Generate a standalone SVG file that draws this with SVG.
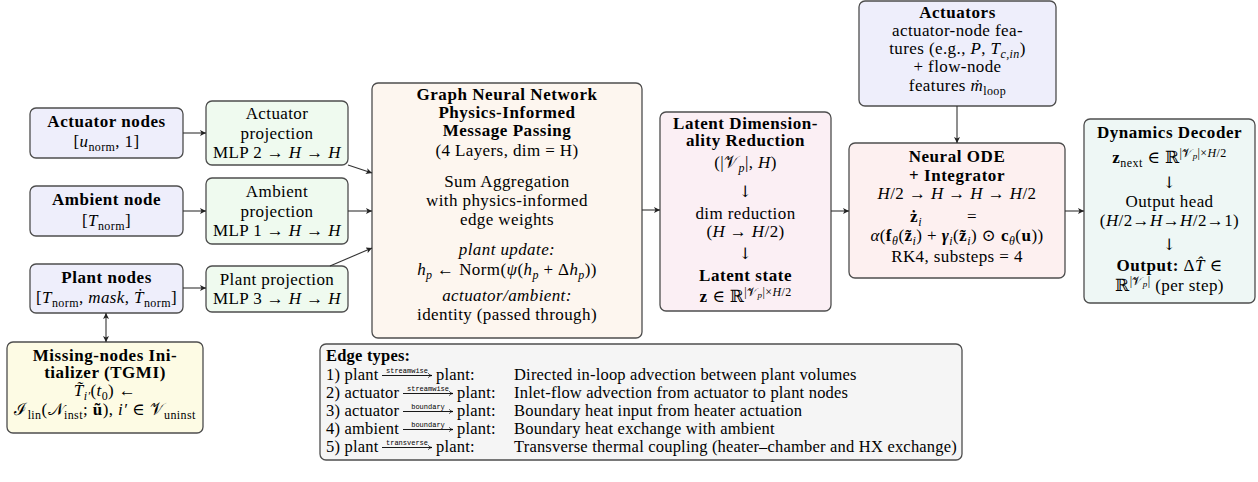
<svg xmlns="http://www.w3.org/2000/svg" width="1258" height="482" viewBox="0 0 1258 482">
<defs>
<marker id="ah" viewBox="0 0 10 10" refX="10" refY="5" markerWidth="7" markerHeight="6" markerUnits="userSpaceOnUse" orient="auto-start-reverse"><path d="M0,0 L10,5 L0,10 L2.5,5 z" fill="#222"/></marker>
<marker id="sh" viewBox="0 0 10 10" refX="9" refY="5" markerWidth="5.5" markerHeight="5.5" markerUnits="userSpaceOnUse" orient="auto"><path d="M2,1 Q5,5 9,5 Q5,5 2,9" fill="none" stroke="#000" stroke-width="1.3"/></marker>
<style>
.bx{stroke:#4d4d4d;stroke-width:1.3}
.blue{fill:#eeeefb}
.green{fill:#effaef}
.yel{fill:#fdfbe4}
.peach{fill:#fdf6ef}
.pink{fill:#fbeff4}
.red{fill:#fdf0f0}
.teal{fill:#eef7f5}
.gray{fill:#f5f5f5}
.t{font-family:"Liberation Serif","DejaVu Serif",serif;font-size:17px;letter-spacing:.4px;text-anchor:middle;fill:#000}
.b{font-weight:bold;letter-spacing:.55px}
.i{font-style:italic}
.s{font-size:12px}
.dn{font-family:"DejaVu Serif",serif;font-size:16px}
.e{font-size:16.5px;letter-spacing:.2px;text-anchor:start}
.m{font-family:"Liberation Mono","DejaVu Sans Mono",monospace;font-size:7px;letter-spacing:0;text-anchor:middle;fill:#000}
.c{stroke:#333;stroke-width:1.1;fill:none;marker-end:url(#ah)}
.la{stroke:#000;stroke-width:.9;fill:none;marker-end:url(#sh)}
</style>
</defs>

<g id="actuator-nodes">
<rect class="bx blue" x="30" y="108" width="153" height="50" rx="6"/>
<text class="t b" x="106.5" y="127">Actuator nodes</text>
<text class="t" x="106.5" y="147">[<tspan class="i">u</tspan><tspan class="s" dy="3.5">norm</tspan><tspan dy="-3.5">, 1]</tspan></text>
</g>

<g id="ambient-node">
<rect class="bx blue" x="30" y="186" width="153" height="50" rx="6"/>
<text class="t b" x="106.5" y="205">Ambient node</text>
<text class="t" x="106.5" y="226">[<tspan class="i">T</tspan><tspan class="s" dy="3.5">norm</tspan><tspan dy="-3.5">]</tspan></text>
</g>

<g id="plant-nodes">
<rect class="bx blue" x="30" y="264" width="153" height="49" rx="6"/>
<text class="t b" x="106.5" y="283">Plant nodes</text>
<text class="t" x="106.5" y="303">[<tspan class="i">T</tspan><tspan class="s" dy="3.5">norm</tspan><tspan dy="-3.5">, </tspan><tspan class="i">mask</tspan>, <tspan class="i">Ṫ</tspan><tspan class="s" dy="3.5">norm</tspan><tspan dy="-3.5">]</tspan></text>
</g>

<g id="missing-nodes-initializer">
<rect class="bx yel" x="7" y="342" width="196" height="91" rx="6"/>
<text class="t b" x="105" y="361">Missing-nodes Ini-</text>
<text class="t b" x="105" y="378">tializer (TGMI)</text>
<text class="t" x="105" y="396"><tspan class="i">T̃</tspan><tspan class="s i" dy="3.5">i′</tspan><tspan dy="-3.5">(</tspan><tspan class="i">t</tspan><tspan class="s" dy="3.5">0</tspan><tspan dy="-3.5">)  ←</tspan></text>
<text class="t" x="105" y="415">ℐ<tspan class="s" dy="3.5">lin</tspan><tspan dy="-3.5">(𝒩</tspan><tspan class="s" dy="3.5">inst</tspan><tspan dy="-3.5">; </tspan><tspan class="b">ũ</tspan>), <tspan class="i">i′</tspan> ∈ 𝒱<tspan class="s" dy="3.5">uninst</tspan></text>
</g>

<g id="actuator-projection">
<rect class="bx green" x="206" y="101" width="142" height="64" rx="6"/>
<text class="t" x="277" y="119">Actuator</text>
<text class="t" x="277" y="139">projection</text>
<text class="t" x="277" y="158">MLP 2 → <tspan class="i">H</tspan> → <tspan class="i">H</tspan></text>
</g>

<g id="ambient-projection">
<rect class="bx green" x="206" y="178" width="142" height="66" rx="6"/>
<text class="t" x="277" y="197">Ambient</text>
<text class="t" x="277" y="217">projection</text>
<text class="t" x="277" y="236">MLP 1 → <tspan class="i">H</tspan> → <tspan class="i">H</tspan></text>
</g>

<g id="plant-projection">
<rect class="bx green" x="206" y="266" width="142" height="46" rx="6"/>
<text class="t" x="277" y="285">Plant projection</text>
<text class="t" x="277" y="304">MLP 3 → <tspan class="i">H</tspan> → <tspan class="i">H</tspan></text>
</g>

<g id="gnn">
<rect class="bx peach" x="372" y="83" width="270" height="255" rx="6"/>
<text class="t b" x="507" y="100">Graph Neural Network</text>
<text class="t b" x="507" y="118">Physics-Informed</text>
<text class="t b" x="507" y="136">Message Passing</text>
<text class="t" x="507" y="156">(4 Layers, dim = H)</text>
<text class="t" x="507" y="187">Sum Aggregation</text>
<text class="t" x="507" y="206">with physics-informed</text>
<text class="t" x="507" y="225">edge weights</text>
<text class="t i" x="507" y="255">plant update:</text>
<text class="t" x="507" y="275"><tspan class="i">h</tspan><tspan class="s i" dy="3.5">p</tspan><tspan dy="-3.5"> ← Norm(</tspan><tspan class="i">ψ</tspan>(<tspan class="i">h</tspan><tspan class="s i" dy="3.5">p</tspan><tspan dy="-3.5"> + Δ</tspan><tspan class="i">h</tspan><tspan class="s i" dy="3.5">p</tspan><tspan dy="-3.5">))</tspan></text>
<text class="t i" x="507" y="301">actuator/ambient:</text>
<text class="t" x="507" y="320">identity (passed through)</text>
</g>

<g id="latent-reduction">
<rect class="bx pink" x="660" y="112" width="171" height="199" rx="6"/>
<text class="t b" x="745.5" y="129">Latent Dimension-</text>
<text class="t b" x="745.5" y="146">ality Reduction</text>
<text class="t" x="745.5" y="168">(|𝒱<tspan class="s i" dy="3.5">p</tspan><tspan dy="-3.5">|, </tspan><tspan class="i">H</tspan>)</text>
<text class="t dn" x="745.5" y="197">↓</text>
<text class="t" x="745.5" y="219">dim reduction</text>
<text class="t" x="745.5" y="237">(<tspan class="i">H</tspan> → <tspan class="i">H</tspan>/2)</text>
<text class="t dn" x="745.5" y="259">↓</text>
<text class="t b" x="745.5" y="281">Latent state</text>
<text class="t" x="745.5" y="302"><tspan class="b">z</tspan> ∈ ℝ<tspan class="s" dy="-6.5">|𝒱</tspan><tspan class="i" style="font-size:9px" dy="2">p</tspan><tspan class="s" dy="-2">|×</tspan><tspan class="s i">H</tspan><tspan class="s">/2</tspan></text>
</g>

<g id="actuators">
<rect class="bx blue" x="859" y="1" width="197" height="105" rx="6"/>
<text class="t b" x="957.5" y="18">Actuators</text>
<text class="t" x="957.5" y="36">actuator-node fea-</text>
<text class="t" x="957.5" y="54">tures (e.g., <tspan class="i">P</tspan>, <tspan class="i">T</tspan><tspan class="s i" dy="3.5">c,in</tspan><tspan dy="-3.5">)</tspan></text>
<text class="t" x="957.5" y="72">+ flow-node</text>
<text class="t" x="957.5" y="91">features <tspan class="i">ṁ</tspan><tspan class="s" dy="3.5">loop</tspan></text>
</g>

<g id="neural-ode">
<rect class="bx red" x="849" y="143" width="216" height="135" rx="6"/>
<text class="t b" x="957" y="162">Neural ODE</text>
<text class="t b" x="957" y="181">+ Integrator</text>
<text class="t" x="957" y="199"><tspan class="i">H</tspan>/2 → <tspan class="i">H</tspan> → <tspan class="i">H</tspan> → <tspan class="i">H</tspan>/2</text>
<text class="t" x="916" y="222"><tspan class="b">ż</tspan><tspan class="s i" dy="3.5">i</tspan></text>
<text class="t" x="972" y="222">=</text>
<text class="t" x="957" y="241"><tspan class="i">α</tspan>(<tspan class="b">f</tspan><tspan class="s i" dy="3.5">θ</tspan><tspan dy="-3.5">(</tspan><tspan class="b">z̃</tspan><tspan class="s i" dy="3.5">i</tspan><tspan dy="-3.5">) + </tspan><tspan class="b i">γ</tspan><tspan class="s i" dy="3.5">i</tspan><tspan dy="-3.5">(</tspan><tspan class="b">z̃</tspan><tspan class="s i" dy="3.5">i</tspan><tspan dy="-3.5">) ⊙ </tspan><tspan class="b">c</tspan><tspan class="s i" dy="3.5">θ</tspan><tspan dy="-3.5">(</tspan><tspan class="b">u</tspan>))</text>
<text class="t" x="957" y="262">RK4, substeps = 4</text>
</g>

<g id="dynamics-decoder">
<rect class="bx teal" x="1084" y="119" width="171" height="184" rx="6"/>
<text class="t b" x="1169.5" y="138">Dynamics Decoder</text>
<text class="t" x="1169.5" y="163"><tspan class="b">z</tspan><tspan class="s" dy="3.5">next</tspan><tspan dy="-3.5"> ∈ ℝ</tspan><tspan class="s" dy="-6.5">|𝒱</tspan><tspan class="i" style="font-size:9px" dy="2">p</tspan><tspan class="s" dy="-2">|×</tspan><tspan class="s i">H</tspan><tspan class="s">/2</tspan></text>
<text class="t dn" x="1169.5" y="188">↓</text>
<text class="t" x="1169.5" y="207">Output head</text>
<text class="t" x="1169.5" y="226">(<tspan class="i">H</tspan>/2→<tspan class="i">H</tspan>→<tspan class="i">H</tspan>/2→1)</text>
<text class="t dn" x="1169.5" y="250">↓</text>
<text class="t" x="1169.5" y="271"><tspan class="b">Output:</tspan> Δ<tspan class="i">T̂</tspan> ∈</text>
<text class="t" x="1169.5" y="291">ℝ<tspan class="s" dy="-6.5">|𝒱</tspan><tspan class="i" style="font-size:9px" dy="2">p</tspan><tspan class="s" dy="-2">|</tspan><tspan dy="6.5"> (per step)</tspan></text>
</g>

<g id="edge-types">
<rect class="bx gray" x="320" y="344" width="642" height="116" rx="6"/>
<text class="t b e" x="326" y="361">Edge types:</text>
<text class="t e" x="326" y="380">1) plant</text>
<line class="la" x1="382" y1="375.5" x2="432" y2="375.5"/>
<text class="m" x="407" y="373">streamwise</text>
<text class="t e" x="436" y="380">plant:</text>
<text class="t e" x="514" y="380">Directed in-loop advection between plant volumes</text>
<text class="t e" x="326" y="398">2) actuator</text>
<line class="la" x1="403" y1="393.5" x2="453" y2="393.5"/>
<text class="m" x="428" y="391">streamwise</text>
<text class="t e" x="457" y="398">plant:</text>
<text class="t e" x="514" y="398">Inlet-flow advection from actuator to plant nodes</text>
<text class="t e" x="326" y="416">3) actuator</text>
<line class="la" x1="403" y1="411.5" x2="453" y2="411.5"/>
<text class="m" x="428" y="409">boundary</text>
<text class="t e" x="457" y="416">plant:</text>
<text class="t e" x="514" y="416">Boundary heat input from heater actuation</text>
<text class="t e" x="326" y="434">4) ambient</text>
<line class="la" x1="403" y1="429.5" x2="453" y2="429.5"/>
<text class="m" x="428" y="427">boundary</text>
<text class="t e" x="457" y="434">plant:</text>
<text class="t e" x="514" y="434">Boundary heat exchange with ambient</text>
<text class="t e" x="326" y="452">5) plant</text>
<line class="la" x1="382" y1="447.5" x2="432" y2="447.5"/>
<text class="m" x="407" y="445">transverse</text>
<text class="t e" x="436" y="452">plant:</text>
<text class="t e" x="514" y="452">Transverse thermal coupling (heater–chamber and HX exchange)</text>
</g>

<g id="connectors">
<line class="c" x1="183" y1="133" x2="206" y2="133"/>
<line class="c" x1="183" y1="211" x2="206" y2="211"/>
<line class="c" x1="183" y1="288" x2="206" y2="288"/>
<line class="c" x1="348" y1="165" x2="372" y2="173"/>
<line class="c" x1="348" y1="211" x2="372" y2="211"/>
<line class="c" x1="330" y1="266" x2="372" y2="248"/>
<line class="c" x1="642" y1="210" x2="660" y2="210"/>
<line class="c" x1="831" y1="211" x2="849" y2="211"/>
<line class="c" x1="957" y1="106" x2="957" y2="143"/>
<line class="c" x1="1065" y1="211" x2="1084" y2="211"/>
<line class="c" x1="106" y1="313" x2="106" y2="342" marker-start="url(#ah)"/>
</g>
</svg>
